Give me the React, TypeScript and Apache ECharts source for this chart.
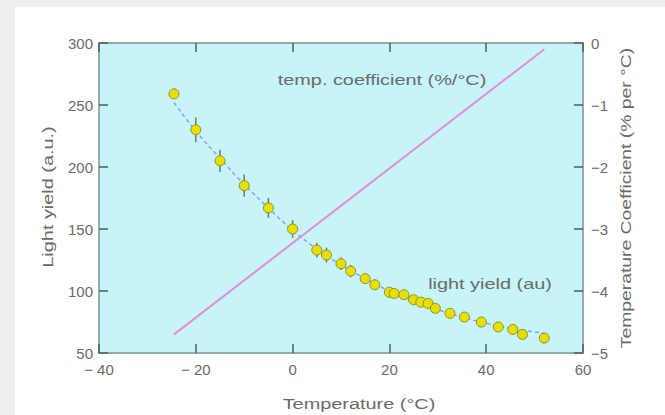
import React, { useEffect, useRef } from "react";
import * as echarts from "echarts";

const temps = [-24.5, -20, -15, -10, -5, 0, 5, 7, 10, 12, 15, 17, 20, 21, 23, 25, 26.5, 28, 29.5, 32.5, 35.5, 39, 42.5, 45.5, 47.5, 52];
const yields = [259, 230, 205, 185, 167, 150, 133, 129, 122, 116, 110, 105, 99, 98, 97, 93, 91, 90, 86, 82, 79, 75, 71, 69, 65, 62];
const errors = [3, 10, 9, 9, 8, 7, 6, 6, 5, 5, 4, 4, 3, 3, 3, 3, 3, 3, 3, 2, 2, 2, 2, 2, 2, 2];
const fitT = [-24.5, -20, -15, -10, -5, 0, 5, 10, 15, 20, 25, 30, 35, 40, 45, 50, 52];
const fitY = [252, 229, 207, 186, 167, 149, 134, 121, 110, 100, 92, 85, 79, 74, 70, 67, 66];
const coefT = [-24.5, 52];
const coefV = [-4.7, -0.1];

const FONT = "'Liberation Sans', Arial, sans-serif";
const TXT = "#6a6a6a";
const AX = "#98a8ab";
const TICK = "#4f5d60";

export default function App() {
  const ref = useRef<HTMLDivElement>(null);
  useEffect(() => {
    document.body.style.margin = "0";
    const chart = echarts.init(ref.current!, null, { renderer: "svg" });
    const minus = (v: number, sp: string) => (v < 0 ? "\u2212" + sp + Math.abs(v) : String(v));
    const axisLine = { show: true, onZero: false, lineStyle: { color: AX, width: 2 } };
    const axisTick = { show: true, inside: true, length: 9, lineStyle: { color: TICK, width: 1.5 } };
    const option: any = {
      animation: false,
      backgroundColor: "#efefef",
      graphic: [
        { type: "rect", z: -10, shape: { x: 15, y: 7, width: 650, height: 408 }, style: { fill: "#ffffff" } },
        { type: "text", x: 382, y: 80, scaleX: 1.42, style: { text: "temp. coefficient (%/\u00b0C)", fill: TXT, font: "14px " + FONT, align: "center", verticalAlign: "middle" } },
        { type: "text", x: 490, y: 284, scaleX: 1.42, style: { text: "light yield (au)", fill: TXT, font: "14px " + FONT, align: "center", verticalAlign: "middle" } },
        { type: "text", x: 359, y: 404, scaleX: 1.42, style: { text: "Temperature (\u00b0C)", fill: TXT, font: "14px " + FONT, align: "center", verticalAlign: "middle" } },
        { type: "text", x: 48, y: 197, rotation: Math.PI / 2, scaleX: 1.42, style: { text: "Light yield (a.u.)", fill: TXT, font: "14px " + FONT, align: "center", verticalAlign: "middle" } },
        { type: "text", x: 626, y: 198, rotation: Math.PI / 2, scaleX: 1.38, style: { text: "Temperature Coefficient (% per \u00b0C)", fill: TXT, font: "14px " + FONT, align: "center", verticalAlign: "middle" } },
      ],
      grid: {
        left: 99, right: 82, top: 43, bottom: 62,
        show: true, backgroundColor: "#c6f4f8", borderColor: AX, borderWidth: 2,
      },
      xAxis: [
        {
          type: "value", min: -40, max: 60, interval: 20, position: "bottom",
          axisLine, axisTick, splitLine: { show: false },
          axisLabel: { color: TXT, fontSize: 15, fontFamily: FONT, margin: 9, formatter: (v: number) => minus(v, " ") },
        },
        {
          type: "value", min: -40, max: 60, interval: 20, position: "top",
          axisLine, axisTick, splitLine: { show: false },
          axisLabel: { show: false },
        },
      ],
      yAxis: [
        {
          type: "value", min: 50, max: 300, interval: 50, position: "left",
          axisLine, axisTick, splitLine: { show: false },
          axisLabel: { color: TXT, fontSize: 15, fontFamily: FONT, margin: 6 },
        },
        {
          type: "value", min: -5, max: 0, interval: 1, position: "right",
          axisLine, axisTick, splitLine: { show: false },
          axisLabel: { color: TXT, fontSize: 15, fontFamily: FONT, margin: 8, formatter: (v: number) => minus(v, "") },
        },
      ],
      series: [
        {
          type: "line", yAxisIndex: 1, xAxisIndex: 0, symbol: "none", z: 2,
          lineStyle: { color: "#e48cd8", width: 2 },
          data: coefT.map((t, i) => [t, coefV[i]]),
        },
        {
          type: "line", yAxisIndex: 0, xAxisIndex: 0, symbol: "none", smooth: true, z: 3,
          lineStyle: { color: "#8b9ff0", width: 1.5, type: [4, 3] },
          data: fitT.map((t, i) => [t, fitY[i]]),
        },
        {
          type: "custom", yAxisIndex: 0, xAxisIndex: 0, z: 4,
          renderItem: (params: any, api: any) => {
            const x = api.value(0), y = api.value(1), e = api.value(2);
            const p1 = api.coord([x, y - e]);
            const p2 = api.coord([x, y + e]);
            return { type: "line", shape: { x1: p1[0], y1: p1[1], x2: p2[0], y2: p2[1] }, style: { stroke: "#6e7a70", lineWidth: 1.5 } };
          },
          data: temps.map((t, i) => [t, yields[i], errors[i]]),
        },
        {
          type: "scatter", yAxisIndex: 0, xAxisIndex: 0, z: 5, symbolSize: 10,
          itemStyle: { color: "#e8e000", borderColor: "#8f8f2a", borderWidth: 1, opacity: 1 },
          data: temps.map((t, i) => [t, yields[i]]),
        },
      ],
    };
    chart.setOption(option);
    return () => chart.dispose();
  }, []);
  return <div ref={ref} style={{ width: 665, height: 415 }} />;
}
